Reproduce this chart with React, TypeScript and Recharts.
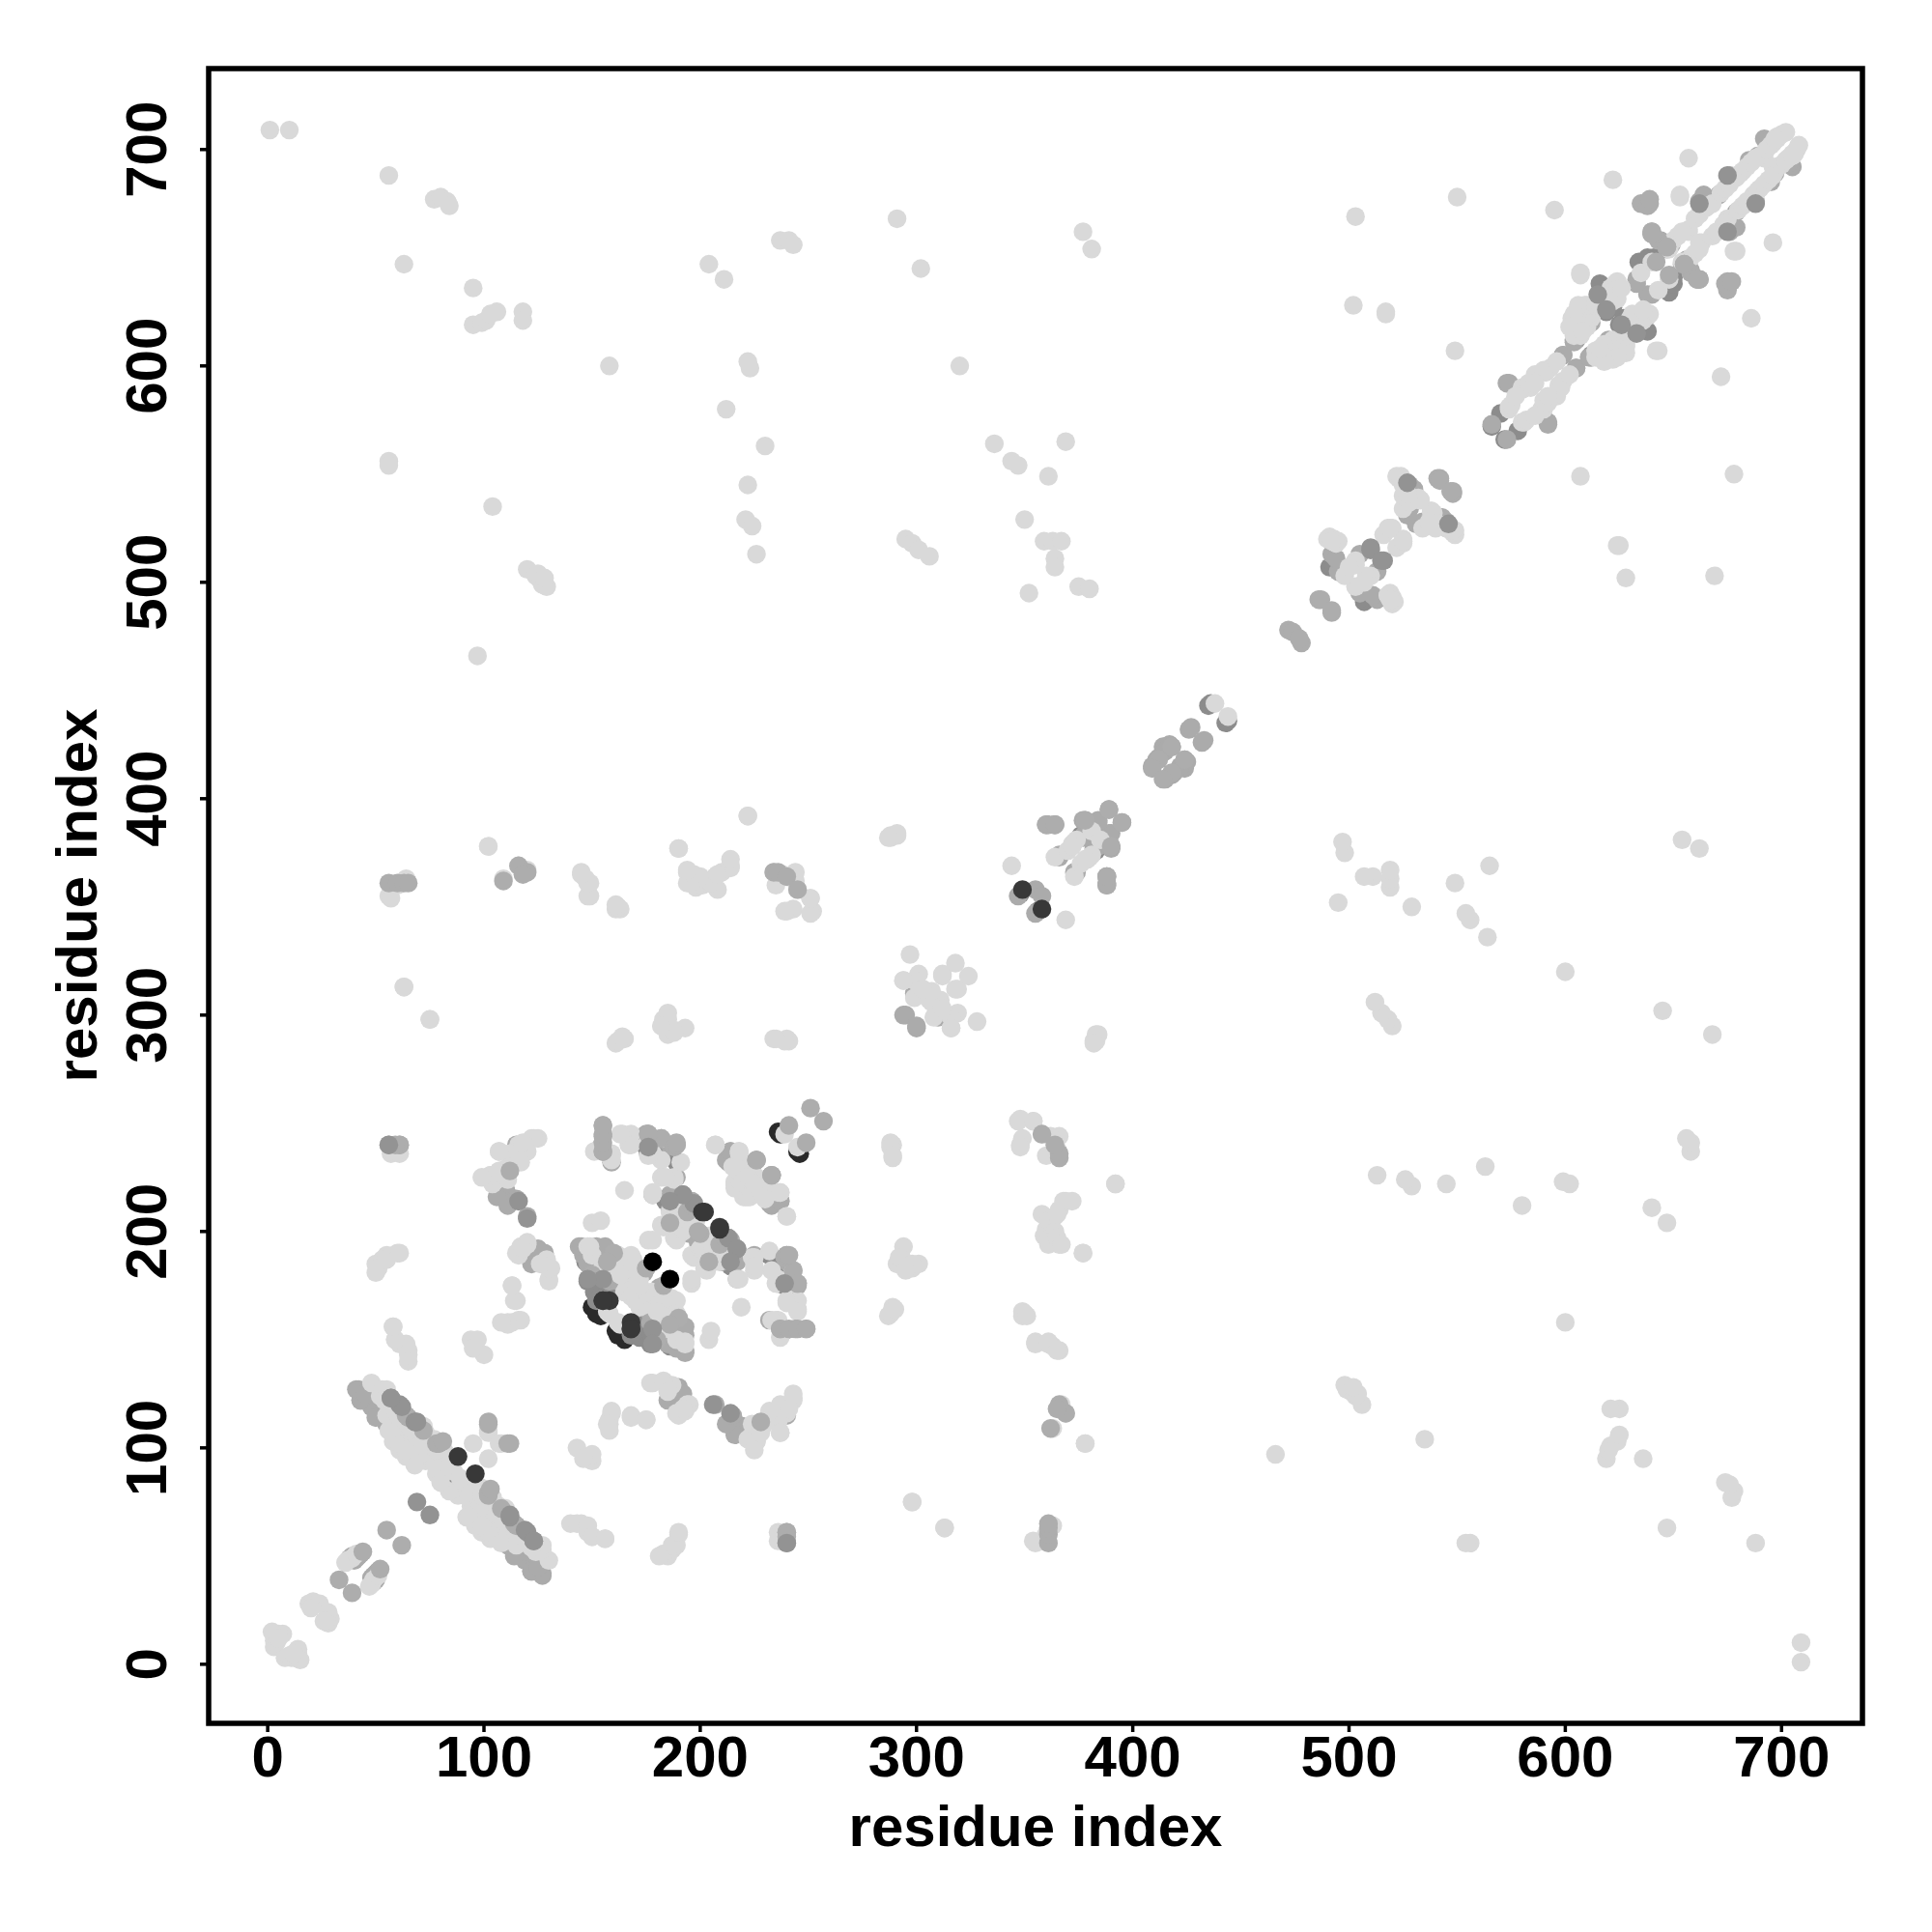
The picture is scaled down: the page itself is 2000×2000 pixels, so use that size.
import React from "react";
import { ScatterChart, Scatter, XAxis, YAxis, ReferenceArea, ReferenceLine } from "recharts";

type Pair = [number, number];

const tickValues = [0, 100, 200, 300, 400, 500, 600, 700];
const axisLabel = "residue index";

const blackUnder: Pair[] = [[236,246],[237,245],[154,164],[154,161],[164,183],[150,165],[152,162]];
const darkUnder: Pair[] = [
  [58,109],[65,105],[60,112],[63,108],[70,104],[75,100],[81,88],[82,86],[86,84],[119,50],
  [148,177],[152,177],[151,172],[147,186],[152,168],[153,177],[162,182],[166,181],[155,178],[150,182],[157,172],
  [184,214],[186,203],[192,206],[200,190],[204,192],[175,239],[187,235],[176,236],[180,237],
  [232,189],[238,180],[236,180],[107,218],[110,219],[493,508],[491,507],[507,493],[544,528],[542,530],
  [616,638],[605,612],[612,604],[572,566],[570,578],[356,348],[634,648],[638,650],[641,650],[625,619],[627,622],
  [435,443],[436,444],[376,383],
];
const midUnder: Pair[] = [
  [41,127],[43,122],[49,127],[48,119],[55,111],[64,115],[46,125],[52,118],[50,114],[110,58],[102,63],[96,66],[122,43],[127,42],[125,45],
  [39,50],[40,48],[42,50],[38,49],[51,43],[49,41],[144,193],[152,193],[156,192],[146,189],[154,189],[157,189],[150,184],[152,189],[145,193],[156,193],[158,177],[162,177],[174,181],[160,188],[148,185],
  [186,217],[196,214],[195,210],[195,201],[199,195],[204,186],[210,186],[214,189],[213,197],[207,198],[178,217],[175,245],[182,243],[186,240],[189,240],[189,225],
  [214,237],[212,233],[232,213],[237,214],[226,233],[225,232],[223,226],[159,232],[154,239],
  [190,128],[190,124],[187,128],[216,112],[219,110],[240,115],[122,185],[127,190],[125,192],[106,216],[111,212],[120,207],[115,215],
  [294,300],[304,311],[299,310],[295,300],[492,513],[497,504],[495,505],[505,513],[511,494],[526,539],[528,545],[530,543],[534,528],[531,527],
  [566,573],[573,592],[599,605],[605,599],[592,574],[604,611],[612,620],[607,620],[633,640],[638,633],[649,656],[647,654],[644,658],[640,662],[671,679],[685,695],[692,705],[694,704],[689,697],[676,688],
  [662,676],[664,679],[409,415],[411,418],[414,424],[417,425],[412,419],[415,422],[418,424],[426,432],[427,433],[361,388],[364,388],[378,390],[384,390],[389,395],[389,384],[390,377],[366,374],[373,366],[382,377],[378,384],
  [347,355],[355,358],
];
const light: Pair[] = [
  [1,709],[10,709],[56,688],[63,647],[77,677],[80,678],[83,676],[84,674],[95,636],[95,619],[99,620],[101,621],[103,624],[106,625],
  [118,625],[118,621],[158,600],[204,647],[211,640],[222,602],[223,599],[212,580],[230,563],[222,545],[221,529],[224,526],[226,513],
  [237,658],[241,658],[243,656],[291,668],[302,645],[320,600],[336,564],[344,556],[347,554],[361,549],[369,565],[377,662],[381,654],
  [350,529],[359,519],[363,519],[367,519],[364,511],[364,507],[352,495],[375,498],[380,497],[295,520],[298,518],[301,515],[306,512],
  [104,535],[97,466],[56,556],[56,554],[120,506],[124,503],[126,501],[127,499],[129,498],[125,504],[128,502],[502,628],[517,625],[517,624],
  [503,669],[550,678],[549,607],[595,672],[607,642],[622,686],[643,607],[657,696],[653,678],[56,355],[63,313],[75,298],[102,378],
  [145,366],[149,361],[149,355],[147,363],[161,349],[163,349],[190,377],[194,366],[194,361],[198,359],[201,360],[207,364],[210,366],[214,369],[204,361],[196,363],
  [222,392],[234,366],[238,364],[241,364],[244,366],[240,348],[243,349],[251,354],[252,348],[288,382],[291,383],[344,369],
  [161,287],[165,289],[183,298],[185,301],[188,293],[193,294],[185,291],[234,289],[240,289],[241,288],[383,288],[384,291],[382,287],
  [297,328],[294,316],[301,319],[306,307],[299,316],[316,294],[312,319],[318,324],[311,307],[308,299],[312,303],[318,312],
  [57,236],[61,236],[51,183],[50,185],[53,187],[55,189],[60,190],[58,156],[59,150],[61,148],[65,145],[65,140],
  [94,150],[97,150],[100,143],[95,146],[113,175],[115,168],[111,158],[113,158],[116,159],[117,193],[120,195],[116,189],[131,183],[130,177],[129,187],
  [122,243],[125,243],[116,240],[107,237],[103,226],[109,226],[113,232],[119,238],[110,229],[106,224],[112,236],
  [148,193],[150,189],[162,189],[168,189],[166,174],[165,186],[171,178],[169,187],[155,184],[160,184],[158,162],[157,163],[165,172],[168,170],[172,178],[168,188],[162,187],[158,186],[149,193],[175,172],[168,183],[158,182],[163,180],
  [150,204],[154,205],[151,237],[159,235],[164,245],[168,245],[168,240],[176,242],[178,236],[182,233],[191,232],[182,225],[165,219],
  [186,209],[189,213],[182,203],[188,197],[198,205],[189,196],[183,202],[191,208],[192,200],[195,204],[189,203],[201,192],[206,192],[178,217],[178,218],
  [208,192],[176,196],[178,196],
  [188,225],[224,188],[225,184],[243,182],[176,235],[167,240],[163,245],[159,236],[159,233],
  [207,240],[218,236],[216,223],[216,220],[216,221],[222,216],[223,220],[218,237],[229,218],[222,228],[218,224],[218,228],[219,232],[225,226],[240,207],[215,230],[222,225],[237,218],[239,245],
  [178,130],[183,130],[194,120],[190,115],[185,126],[192,118],[159,117],[157,111],[168,114],[175,113],[158,108],[222,104],[226,103],[225,99],[237,107],[243,123],[237,120],[230,112],[224,111],[232,117],[228,107],[241,118],
  [143,65],[148,64],[150,59],[156,58],[183,51],[187,55],[190,61],[181,50],[237,58],[237,60],[298,75],[313,63],[354,57],[360,60],[363,64],[367,120],[369,116],[363,109],[378,102],
  [358,208],[361,205],[364,200],[368,214],[365,208],[372,214],[361,195],[365,197],[367,194],[377,190],[392,222],[347,251],[354,251],[348,239],[358,245],[362,244],[365,238],[360,235],[350,162],[351,161],[355,148],[361,148],[365,145],
  [288,162],[290,164],[294,185],[292,188],[298,185],[295,182],[288,239],[289,235],
  [48,130],[53,127],[61,99],[64,96],[68,92],[73,107],[81,98],[73,94],[78,88],[80,94],[84,80],[77,93],[81,99],[76,100],[75,98],[70,108],[72,110],[64,114],[66,112],[62,118],[52,124],[56,116],[63,100],[66,98],[70,96],[69,102],[72,98],
  [82,98],[55,127],[54,122],[61,109],[60,110],[62,107],[58,103],[61,102],[56,108],[65,108],[66,109],[78,99],[77,104],[84,91],[86,89],
  [68,93],[64,99],[55,115],[59,118],[60,115],
  [102,108],[95,102],[102,107],[39,49],[37,48],[36,47],[41,51],[19,28],[21,29],[24,28],[20,27],[20,26],[3,14],[7,14],[5,14],[3,11],[3,8],[4,10],[3,13],[2,15],[5,12],
  [491,521],[494,518],[493,519],[490,520],[492,520],[503,510],[503,498],[508,503],[500,507],[518,525],[519,525],[520,525],[516,522],[525,519],[495,519],[520,493],[518,494],[519,492],
  [522,549],[524,549],[523,548],[532,539],[525,534],[533,538],[524,547],[525,545],[538,533],[540,525],[524,548],[537,528],[527,541],
  [574,581],[580,589],[589,597],[591,597],[593,599],[580,590],[586,596],[584,590],[590,598],[574,580],[575,582],[603,622],[606,618],[609,625],[604,620],[604,615],[608,620],[606,624],[608,622],[607,614],[612,622],
  [624,635],[624,631],[622,633],[621,636],[623,638],[607,622],[610,621],[610,618],[635,643],[657,663],[657,662],[665,673],[653,679],[679,687],[681,689],[690,697],[700,707],[696,703],[698,705],[692,696],[660,668],[668,675],[640,648],[648,654],
  [608,624],[605,620],[609,628],[605,624],[604,614],[611,624],[609,618],[612,628],[624,639],[623,635],
  [682,690],[684,692],[686,694],[688,696],[693,700],[695,702],[698,706],[702,708],[697,705],[672,680],[674,682],[676,684],[662,670],[666,674],[650,658],[652,660],[654,662],[577,586],[583,592],[586,592],[596,602],[610,628],[606,628],[604,624],[602,618],[608,616],[614,628],[616,628],[620,632],[622,630],[626,636],
  [438,444],[364,373],[373,380],[372,379],[370,376],[381,385],[374,381],[378,372],
];
const midOver: Pair[] = [
  [64,115],[102,112],[111,102],[44,52],[33,39],[55,62],[240,61],[241,249],[251,257],[112,228],
  [234,366],[236,366],[240,364],[56,361],[60,361],[63,361],[65,361],[109,362],[116,369],[120,366],[118,365],[245,358],
  [639,675],[635,675],[638,674],[639,677],[472,478],[474,477],[486,492],[487,492],[542,548],[541,548],[542,547],
  [360,388],[364,388],[378,390],[389,395],[388,360],[388,364],[418,424],[412,418],[409,414],
  [56,240],[61,240],[59,240],[155,237],[155,244],[155,249],[188,240],[176,245],[182,243],[233,226],[226,233],
  [175,183],[200,199],[194,209],[196,214],[204,186],[212,196],[237,155],[241,155],[245,155],[249,155],[239,188],[240,189],[241,189],[245,176],[160,190],[157,186],[150,180],
  [102,79],[78,102],[108,72],[114,65],[79,102],[81,103],[661,640],[640,662],[643,658],[647,655],[640,661],[655,647],[648,642],
];
const darkOver: Pair[] = [
  [57,123],[61,120],[68,112],[69,75],[240,56],[510,516],[510,515],[615,633],[619,626],[527,546],[662,675],[675,688],[214,116],[206,120],
  [192,217],[213,197],[217,192],[186,214],[176,239],[119,62],[123,57],[112,69],[155,178],[148,178],
];
const nearBlack: Pair[] = [[88,96],[158,168],[155,168],[201,209],[209,202],[349,358],[168,155]];
const black: Pair[] = [[178,186]];

const mirrored = (pairs: Pair[]) =>
  pairs.flatMap(([i, j]) => [{ x: i, y: j }, { x: j, y: i }]);

const dot = (r: number) => (p: any) => <circle cx={p.cx} cy={p.cy} r={r} fill={p.fill} />;

const font = "'Liberation Sans', Arial, sans-serif";
const R = 9.7;

const XTick = (p: any) => (
  <text x={p.x} y={1839} textAnchor="middle" fontFamily={font} fontWeight="bold" fontSize={60} fill="#000">
    {p.payload.value}
  </text>
);
const YTick = (p: any) => (
  <text transform={`translate(172 ${p.y}) rotate(-90)`} textAnchor="middle" fontFamily={font} fontWeight="bold" fontSize={60} fill="#000">
    {p.payload.value}
  </text>
);

export default function App() {
  return (
    <div style={{ position: "absolute", left: 0, top: 0, width: 2000, height: 2000, background: "#fff" }}>
      <ScatterChart width={2000} height={2000} margin={{ top: 71, right: 72, bottom: 16, left: 16 }}>
        <XAxis type="number" dataKey="x" domain={[-27.3, 737.4]} ticks={tickValues} height={200} axisLine={false}
          tickLine={{ stroke: "#000", strokeWidth: 3.5 }} tickSize={9} tick={XTick} interval={0} allowDataOverflow />
        <YAxis type="number" dataKey="y" domain={[-27.3, 737.4]} ticks={tickValues} width={200} axisLine={false}
          tickLine={{ stroke: "#000", strokeWidth: 3.5 }} tickSize={9} tick={YTick} interval={0} allowDataOverflow />
        <Scatter data={mirrored(blackUnder)} fill="#2a2a2a" shape={dot(R)} isAnimationActive={false} />
        <Scatter data={mirrored(darkUnder)} fill="#8c8c8c" shape={dot(R)} isAnimationActive={false} />
        <Scatter data={mirrored(midUnder)} fill="#ababab" shape={dot(R)} isAnimationActive={false} />
        <Scatter data={mirrored(light)} fill="#d9d9d9" shape={dot(R)} isAnimationActive={false} />
        <Scatter data={mirrored(midOver)} fill="#adadad" shape={dot(R)} isAnimationActive={false} />
        <Scatter data={mirrored(darkOver)} fill="#939393" shape={dot(R)} isAnimationActive={false} />
        <Scatter data={mirrored(nearBlack)} fill="#383838" shape={dot(R)} isAnimationActive={false} />
        <Scatter data={mirrored(black)} fill="#000000" shape={dot(R)} isAnimationActive={false} />
        <ReferenceLine segment={[{ x: 0, y: 0 }, { x: 709, y: 709 }]} stroke="#fff" strokeWidth={1} />
        <ReferenceArea x1={-27.3} x2={737.4} y1={-27.3} y2={737.4} fill="none" stroke="#000" strokeWidth={5.5} />
        <text x={1072} y={1911} textAnchor="middle" fontFamily={font} fontWeight="bold" fontSize={60} fill="#000">{axisLabel}</text>
        <text transform="translate(100 927) rotate(-90)" textAnchor="middle" fontFamily={font} fontWeight="bold" fontSize={60} fill="#000">{axisLabel}</text>
      </ScatterChart>
    </div>
  );
}
